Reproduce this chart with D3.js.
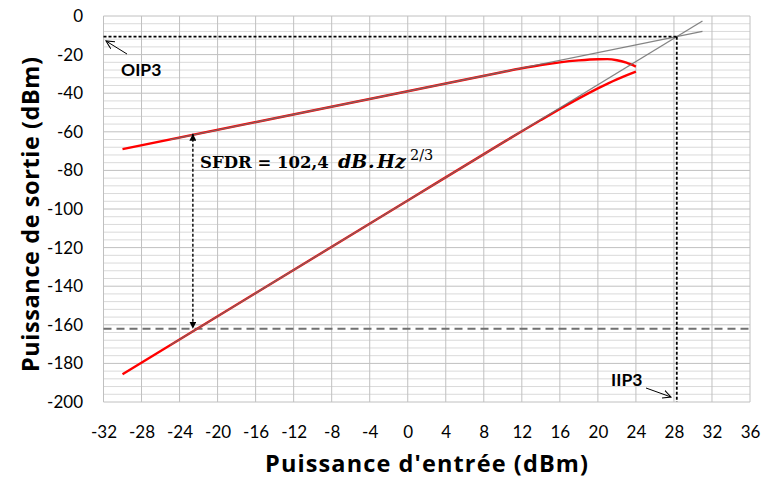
<!DOCTYPE html>
<html>
<head>
<meta charset="utf-8">
<script src="https://cdn.jsdelivr.net/npm/d3@7"></script>
<style>
  body { margin: 0; background: #fff; }
  svg { display: block; }
</style>
</head>
<body>
<div id="chart"></div>
<script>
// tick labels
const xTickValues = [-32, -28, -24, -20, -16, -12, -8, -4, 0, 4, 8, 12, 16, 20, 24, 28, 32, 36];
const yTickValues = [0, -20, -40, -60, -80, -100, -120, -140, -160, -180, -200];

// measured fundamental output (red, upper)
const fundIn  = [-30, 0, 10, 12, 14, 16, 18, 20, 21, 22, 23, 24];
const fundOut = [-69, -39, -29, -27.1, -25.4, -24, -23, -22.4, -22.35, -22.9, -24.2, -26.2];

// measured IM3 output (red, lower)
const im3In  = [-30, 0, 10, 12, 14, 16, 18, 20, 22, 24];
const im3Out = [-185.6, -95.6, -65.6, -59.7, -53.9, -48.2, -42.7, -37.5, -32.8, -28.8];

// linear extrapolations (grey)
const fundFitIn  = [-25, 31];
const fundFitOut = [-64, -8];
const im3FitIn   = [-25, 31];
const im3FitOut  = [-170.6, -2.6];

// markers
const iip3 = 28.3;
const oip3 = -10.7;
const noiseFloor = -162;
const sfdrX = -22.6;
const sfdrTop = -61;

const width = 764, height = 479;
const plot = { left: 103.5, right: 750, top: 16, bottom: 402 };

const svg = d3.select("#chart")
    .append("svg")
    .attr("width", width)
    .attr("height", height);

const x = d3.scaleLinear().domain([-32, 36]).range([plot.left, plot.right]);
const y = d3.scaleLinear().domain([-200, 0]).range([plot.bottom, plot.top]);

const defs = svg.append("defs");
defs.append("marker")
    .attr("id", "tri")
    .attr("viewBox", "0 0 10 10")
    .attr("refX", 10).attr("refY", 5)
    .attr("markerWidth", 7).attr("markerHeight", 7)
    .attr("markerUnits", "userSpaceOnUse")
    .attr("orient", "auto-start-reverse")
    .append("path")
    .attr("d", "M0,0L10,5L0,10z")
    .attr("fill", "#000");
defs.append("marker")
    .attr("id", "open")
    .attr("viewBox", "0 0 10 10")
    .attr("refX", 9).attr("refY", 5)
    .attr("markerWidth", 9).attr("markerHeight", 9)
    .attr("markerUnits", "userSpaceOnUse")
    .attr("orient", "auto")
    .append("path")
    .attr("d", "M0,0.5L9,5L0,9.5")
    .attr("fill", "none")
    .attr("stroke", "#000")
    .attr("stroke-width", 1.2);

// grid
const grid = svg.append("g");
grid.selectAll(".hminor")
    .data(d3.range(-200, 1, 4))
    .enter().append("line")
    .attr("x1", plot.left).attr("x2", plot.right)
    .attr("y1", d => y(d)).attr("y2", d => y(d))
    .attr("stroke", d => d % 20 === 0 ? "#c0c0c0" : "#dadada")
    .attr("stroke-width", 1);
grid.selectAll(".v")
    .data(xTickValues)
    .enter().append("line")
    .attr("x1", d => x(d)).attr("x2", d => x(d))
    .attr("y1", plot.top).attr("y2", plot.bottom)
    .attr("stroke", "#c0c0c0")
    .attr("stroke-width", 1);

// axes
const font = "Lato, 'Open Sans', sans-serif";
const titleFont = "'Open Sans', Lato, sans-serif";
const xAxis = svg.append("g")
    .attr("transform", `translate(0,${plot.bottom})`)
    .call(d3.axisBottom(x).tickValues(xTickValues).tickSize(0).tickPadding(24).tickFormat(d3.format("d")));
const yAxis = svg.append("g")
    .attr("transform", `translate(${plot.left},0)`)
    .call(d3.axisLeft(y).tickValues(yTickValues).tickSize(0).tickPadding(20.5).tickFormat(d3.format("d")));
[xAxis, yAxis].forEach(a => {
    a.select(".domain").remove();
    a.selectAll("text")
        .style("font-family", font)
        .style("font-size", "17px")
        .attr("fill", "#000");
});
xAxis.selectAll("text").text(d => d < 0 ? "-" + Math.abs(d) : d);
yAxis.selectAll("text").text(d => d < 0 ? "-" + Math.abs(d) : d);

// noise floor
svg.append("line")
    .attr("x1", plot.left).attr("x2", plot.right)
    .attr("y1", y(noiseFloor)).attr("y2", y(noiseFloor))
    .attr("stroke", "#707070")
    .attr("stroke-width", 2)
    .attr("stroke-dasharray", "8,5");

// red curves
const line = d3.line().x(d => x(d[0])).y(d => y(d[1])).curve(d3.curveMonotoneX);
svg.append("path")
    .datum(d3.zip(fundIn, fundOut))
    .attr("d", line)
    .attr("fill", "none").attr("stroke", "#ff0000").attr("stroke-width", 2.4);
svg.append("path")
    .datum(d3.zip(im3In, im3Out))
    .attr("d", line)
    .attr("fill", "none").attr("stroke", "#ff0000").attr("stroke-width", 2.4);

// grey fits
const straight = d3.line().x(d => x(d[0])).y(d => y(d[1]));
[[fundFitIn, fundFitOut], [im3FitIn, im3FitOut]].forEach(([a, b]) => {
    svg.append("path")
        .datum(d3.zip(a, b))
        .attr("d", straight)
        .attr("fill", "none")
        .attr("stroke", "#6e6e6e")
        .attr("stroke-opacity", 0.85)
        .attr("stroke-width", 1.3);
});

// OIP3 / IIP3 dashed
svg.append("line")
    .attr("x1", plot.left).attr("x2", x(iip3))
    .attr("y1", y(oip3)).attr("y2", y(oip3))
    .attr("stroke", "#000").attr("stroke-width", 1.6)
    .attr("stroke-dasharray", "3,2");
svg.append("line")
    .attr("x1", x(iip3)).attr("x2", x(iip3))
    .attr("y1", y(oip3)).attr("y2", plot.bottom)
    .attr("stroke", "#000").attr("stroke-width", 1.8)
    .attr("stroke-dasharray", "3,2");

// SFDR arrow
svg.append("line")
    .attr("x1", x(sfdrX)).attr("x2", x(sfdrX))
    .attr("y1", y(sfdrTop)).attr("y2", y(noiseFloor))
    .attr("stroke", "#000").attr("stroke-width", 1.4)
    .attr("stroke-dasharray", "3,2")
    .attr("marker-start", "url(#tri)")
    .attr("marker-end", "url(#tri)");

// annotations
svg.append("line")
    .attr("x1", 127).attr("y1", 54).attr("x2", 106).attr("y2", 41)
    .attr("stroke", "#000").attr("stroke-width", 1)
    .attr("marker-end", "url(#open)");
svg.append("text")
    .attr("x", 121).attr("y", 76)
    .style("font-family", font).style("font-size", "17.5px").style("font-weight", "bold")
    .text("OIP3");

svg.append("line")
    .attr("x1", 646).attr("y1", 388).attr("x2", 671).attr("y2", 397)
    .attr("stroke", "#000").attr("stroke-width", 1)
    .attr("marker-end", "url(#open)");
svg.append("text")
    .attr("x", 611).attr("y", 386)
    .style("font-family", font).style("font-size", "17.5px").style("font-weight", "bold")
    .text("IIP3");

const sfdr = svg.append("text")
    .attr("y", 168)
    .style("font-family", "'DejaVu Serif', serif")
    .style("font-size", "16.5px")
    .style("font-weight", "bold");
sfdr.append("tspan").attr("x", 200).text("SFDR = 102,4");
sfdr.append("tspan").attr("x", 338).style("font-style", "italic").style("font-size", "19px").text("dB");
sfdr.append("tspan").attr("x", 368).style("font-style", "italic").style("font-size", "19px").text(".");
sfdr.append("tspan").attr("x", 377).style("font-style", "italic").style("font-size", "19px").text("Hz");
sfdr.append("tspan").attr("x", 410).attr("y", 160).style("font-size", "14.5px").style("font-weight", "normal").text("2/3");

// axis titles
svg.append("text")
    .attr("x", 426.5).attr("y", 472)
    .attr("text-anchor", "middle")
    .attr("textLength", 323)
    .style("font-family", titleFont).style("font-size", "23.5px").style("font-weight", "bold")
    .text("Puissance d'entrée (dBm)");
svg.append("text")
    .attr("transform", "translate(39,214.5) rotate(-90)")
    .attr("text-anchor", "middle")
    .attr("textLength", 315)
    .style("font-family", titleFont).style("font-size", "23.5px").style("font-weight", "bold")
    .text("Puissance de sortie (dBm)");
</script>
</body>
</html>
